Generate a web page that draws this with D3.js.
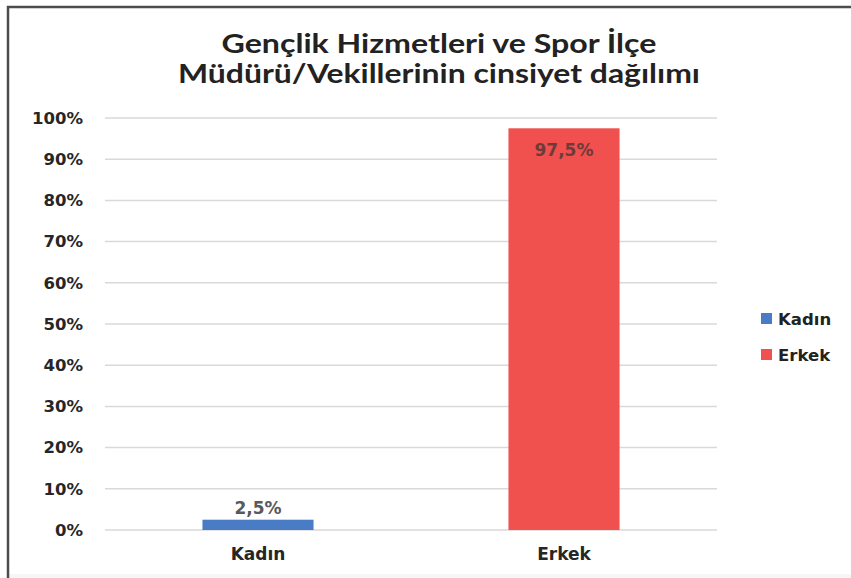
<!DOCTYPE html>
<html>
<head>
<meta charset="utf-8">
<script src="https://cdn.jsdelivr.net/npm/d3@7/dist/d3.min.js"></script>
<style>
  html, body { margin: 0; padding: 0; background: #fff; }
  svg { display: block; }
  .tick text { font-family: "DejaVu Sans", sans-serif; font-weight: bold; }
</style>
</head>
<body>
<svg id="chart" width="851" height="578"></svg>
<script>
const titleLines = ["Gençlik Hizmetleri ve Spor İlçe", "Müdürü/Vekillerinin cinsiyet dağılımı"];
const titleWidths = [435, 522];
const categories = ["Kadın", "Erkek"];
const values = [2.5, 97.5];
const colors = ["#4a7cc5", "#f0504e"];
const yTicks = [0, 10, 20, 30, 40, 50, 60, 70, 80, 90, 100];

const width = 851, height = 578;
const margin = { top: 118, right: 134, bottom: 48, left: 105 };
const plotW = width - margin.left - margin.right;
const plotH = height - margin.top - margin.bottom;

const svg = d3.select("#chart");

// frame: only top and left edges are visible in the picture
svg.append("rect").attr("x", 0).attr("y", 0).attr("width", width).attr("height", height).attr("fill", "#fff");
svg.append("rect").attr("x", 8).attr("y", 574).attr("width", width - 8).attr("height", 4).attr("fill", "#f6f6f6");
svg.append("path")
  .attr("d", `M8,${height} V7 H${width}`)
  .attr("fill", "none")
  .attr("stroke", "#4d4d4d")
  .attr("stroke-width", 2.5);

svg.selectAll("text.title")
  .data(titleLines)
  .join("text")
  .attr("class", "title")
  .attr("x", 439)
  .attr("y", (d, i) => 53 + i * 30)
  .attr("text-anchor", "middle")
  .attr("font-family", "Lato, sans-serif")
  .attr("font-weight", "bold")
  .attr("font-size", 26.5)
  .attr("fill", "#222")
  .attr("textLength", (d, i) => titleWidths[i])
  .attr("lengthAdjust", "spacingAndGlyphs")
  .text(d => d);

const g = svg.append("g").attr("transform", `translate(${margin.left},${margin.top})`);

const x = d3.scaleBand()
  .domain(categories)
  .range([0, plotW])
  .paddingInner(0.637)
  .paddingOuter(0.3185);

const y = d3.scaleLinear().domain([0, 100]).range([plotH, 0]);

// gridlines
g.append("g")
  .selectAll("line")
  .data(yTicks)
  .join("line")
  .attr("x1", 0)
  .attr("x2", plotW)
  .attr("y1", d => y(d))
  .attr("y2", d => y(d))
  .attr("stroke", "#d9d9d9")
  .attr("stroke-width", 1.5);

// y axis labels
const yAxis = g.append("g")
  .call(d3.axisLeft(y).tickValues(yTicks).tickFormat(d => d + "%").tickSize(0).tickPadding(22));
yAxis.select(".domain").remove();
yAxis.selectAll("text").attr("font-size", 16.5).attr("fill", "#262626");

// bars
g.selectAll("rect.bar")
  .data(values)
  .join("rect")
  .attr("class", "bar")
  .attr("x", (d, i) => x(categories[i]))
  .attr("width", x.bandwidth())
  .attr("y", d => y(d))
  .attr("height", d => plotH - y(d))
  .attr("fill", (d, i) => colors[i]);

// value labels
const fmt = d => d3.format(".1f")(d).replace(".", ",") + "%";
g.selectAll("text.val")
  .data(values)
  .join("text")
  .attr("class", "val")
  .attr("x", (d, i) => x(categories[i]) + x.bandwidth() / 2)
  .attr("y", d => d > 50 ? y(d) + 28 : y(d) - 6)
  .attr("text-anchor", "middle")
  .attr("font-family", "DejaVu Sans, sans-serif")
  .attr("font-weight", "bold")
  .attr("font-size", 17)
  .attr("fill", d => d > 50 ? "#6e3b3b" : "#595959")
  .text(fmt);

// x axis labels
const xAxis = g.append("g")
  .attr("transform", `translate(0,${plotH})`)
  .call(d3.axisBottom(x).tickSize(0).tickPadding(18));
xAxis.select(".domain").remove();
xAxis.selectAll("text").attr("font-size", 17).attr("fill", "#262626");

// legend
const legend = svg.append("g").attr("transform", "translate(761,313)");
const item = legend.selectAll("g")
  .data(categories)
  .join("g")
  .attr("transform", (d, i) => `translate(0,${i * 36})`);
item.append("rect")
  .attr("width", 11)
  .attr("height", 11)
  .attr("fill", (d, i) => colors[i]);
item.append("text")
  .attr("x", 17)
  .attr("y", 6)
  .attr("dy", "0.35em")
  .attr("font-family", "DejaVu Sans, sans-serif")
  .attr("font-weight", "bold")
  .attr("font-size", 16.5)
  .attr("fill", "#222")
  .text(d => d);
</script>
</body>
</html>
